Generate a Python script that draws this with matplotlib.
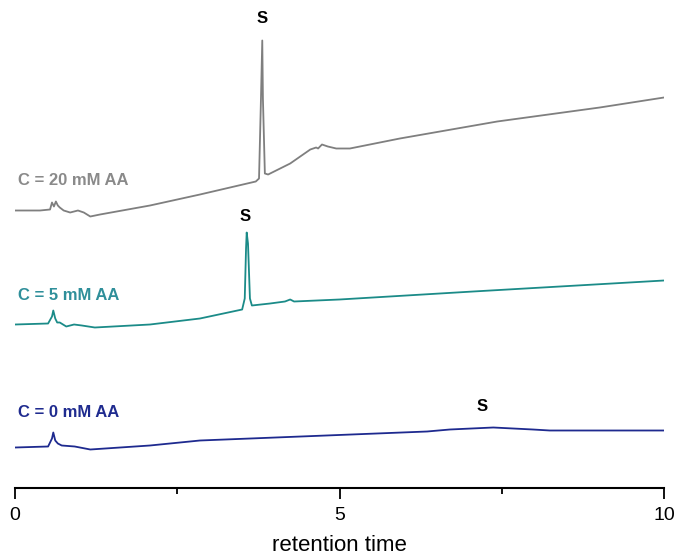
import matplotlib
matplotlib.use("Agg")
import matplotlib.pyplot as plt

plt.rcParams['font.family'] = ['Liberation Sans', 'DejaVu Sans']

# Chromatogram traces (retention time, signal)
t_20 = [0, 0.385, 0.54, 0.57, 0.60, 0.63, 0.66, 0.69, 0.75, 0.85, 0.97, 1.06, 1.16, 1.31,
        2.08, 2.85, 3.71, 3.76, 3.79, 3.81, 3.82, 3.85, 3.90, 4.24, 4.55, 4.64, 4.67,
        4.73, 4.82, 4.95, 5.16, 5.93, 7.43, 9.01, 10]
s_20 = [277, 277, 278, 285, 281, 286, 282, 280, 277, 275, 277, 275, 271, 273,
        282, 293, 306, 309, 389, 447, 389, 314, 313, 324, 338, 340, 339,
        343, 341, 339, 339, 349, 366, 380, 390]

t_5 = [0, 0.51, 0.57, 0.59, 0.62, 0.65, 0.69, 0.79, 0.91, 1.03, 1.23, 2.08, 2.85,
       3.50, 3.54, 3.56, 3.57, 3.59, 3.62, 3.65, 3.93, 4.16, 4.24, 4.30, 5.0,
       7.06, 10]
s_5 = [163, 164, 171, 177, 169, 165, 165, 161, 163, 162, 160, 163, 169,
       178, 189, 239, 255, 244, 189, 182, 184, 186, 188, 186, 188,
       196, 207]

t_0 = [0, 0.51, 0.57, 0.59, 0.62, 0.66, 0.72, 0.92, 1.16, 2.08, 2.85, 6.35,
       6.70, 7.37, 7.98, 8.24, 10]
s_0 = [40, 41, 49, 55, 47, 44, 42, 41, 38, 42, 47, 56,
       58, 60, 58, 57, 57]

labels = ["C = 20 mM AA", "C = 5 mM AA", "C = 0 mM AA"]
label_y = [307, 192, 75]

# "S" peak markers
s_t = [3.81, 3.54, 7.2]
s_y = [469, 271, 81]

line_colors = ["#7f7f7f", "#1b8b88", "#1e2a8f"]
text_colors = ["#8a8a8a", "#2f8f9a", "#1f2b8f"]

fig = plt.figure(figsize=(6.75, 5.57), dpi=100)
ax = fig.add_axes([15 / 675, 69.5 / 557, 649 / 675, 487.5 / 557])

for t, s, c in zip([t_20, t_5, t_0], [s_20, s_5, s_0], line_colors):
    ax.plot(t, s, color=c, linewidth=1.3)

for lab, y, c in zip(labels, label_y, text_colors):
    ax.text(0.05, y, lab, color=c, fontsize=12, fontweight='bold', va='center', ha='left')

for t, y in zip(s_t, s_y):
    ax.text(t, y, "S", fontsize=12, fontweight='bold', ha='center', va='center')

ax.set_xlim(0, 10)
ax.set_ylim(0, 487.5)
for side in ['left', 'right', 'top']:
    ax.spines[side].set_visible(False)
ax.spines['bottom'].set_linewidth(1.5)
ax.set_yticks([])
ax.set_xticks([0, 5, 10])
ax.set_xticklabels(["0", "5", "10"])
ax.set_xticks([2.5, 7.5], minor=True)
ax.tick_params(axis='x', which='major', length=8, width=1.3, labelsize=14, pad=6)
ax.tick_params(axis='x', which='minor', length=4, width=1.3)
ax.set_xlabel("retention time", fontsize=16, labelpad=8)

fig.savefig("out.png", dpi=100)
